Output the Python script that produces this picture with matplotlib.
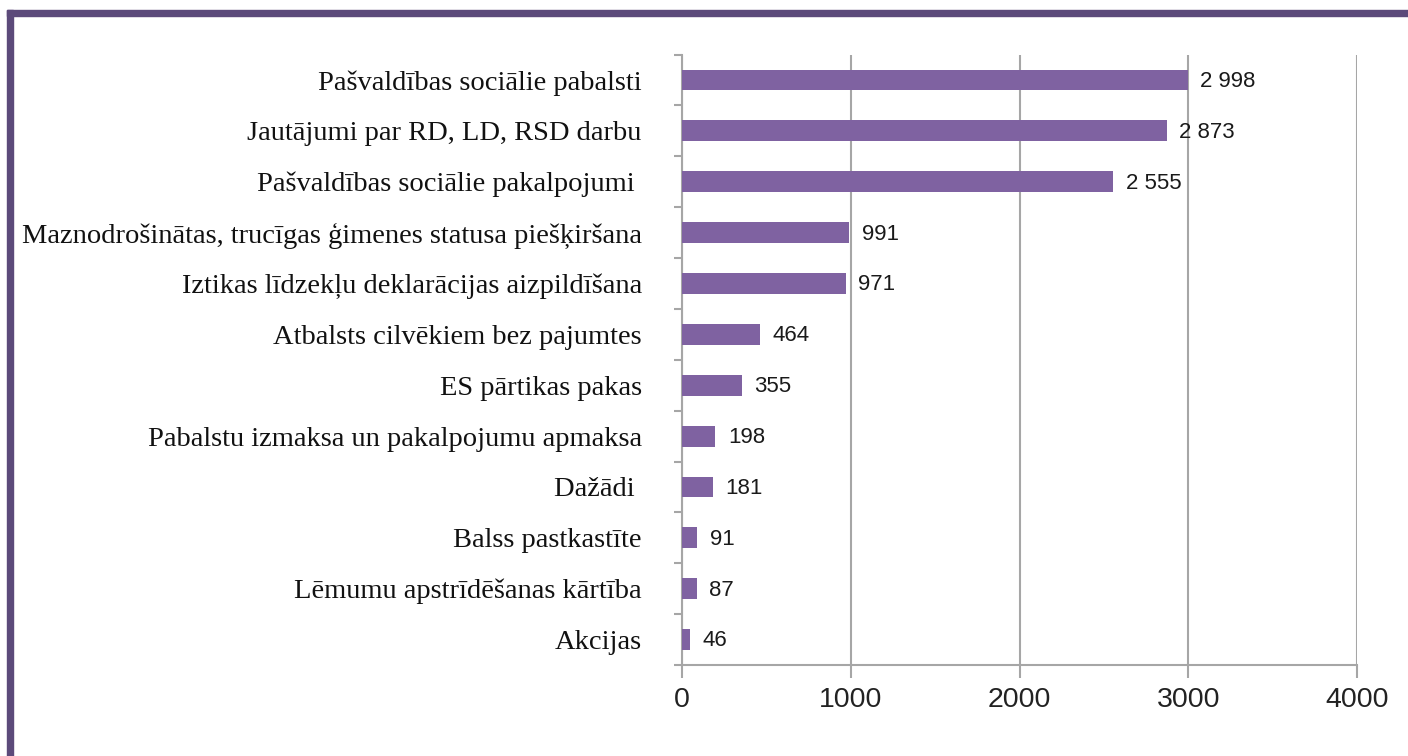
import matplotlib.pyplot as plt
from matplotlib.patches import Rectangle
import numpy as np

# Dati (no augšas uz leju)
kategorijas = [
    'Pašvaldības sociālie pabalsti',
    'Jautājumi par RD, LD, RSD darbu',
    'Pašvaldības sociālie pakalpojumi ',
    'Maznodrošinātas, trucīgas ģimenes statusa piešķiršana',
    'Iztikas līdzekļu deklarācijas aizpildīšana',
    'Atbalsts cilvēkiem bez pajumtes',
    'ES pārtikas pakas',
    'Pabalstu izmaksa un pakalpojumu apmaksa',
    'Dažādi ',
    'Balss pastkastīte',
    'Lēmumu apstrīdēšanas kārtība',
    'Akcijas',
]
vertibas = [2998, 2873, 2555, 991, 971, 464, 355, 198, 181, 91, 87, 46]
x_ticki = [0, 1000, 2000, 3000, 4000]

BAR_COLOR = '#7F62A1'
GRID_COLOR = '#A6A6A6'
BORDER_COLOR = '#5C4A7A'
SANS = ['Liberation Sans', 'DejaVu Sans']
SERIF = ['Liberation Serif', 'DejaVu Serif']

fig = plt.figure(figsize=(14.08, 7.56), dpi=100)
ax = fig.add_axes([0.4844, 0.1204, 0.4794, 0.8074])

y = np.arange(len(vertibas))
ax.barh(y, vertibas, height=0.41, color=BAR_COLOR, zorder=3)
ax.set_ylim(len(vertibas) - 0.5, -0.5)
ax.set_xlim(0, 4000)

# vērtību uzraksti
for yi, v in zip(y, vertibas):
    ax.annotate(f'{v:,}'.replace(',', ' '), (v, yi), xytext=(9, -1),
                textcoords='offset points', ha='left', va='center',
                fontsize=16, family=SANS, color='#1a1a1a')

# asis un režģis
ax.set_xticks(x_ticki)
ax.set_xticklabels([str(t) for t in x_ticki], family=SANS, fontsize=20.5, color='#222222')
ax.set_yticks(y)
ax.set_yticklabels(kategorijas, family=SERIF, fontsize=20.5, color='#111111')
ax.set_yticks(np.arange(len(vertibas) + 1) - 0.5, minor=True)
ax.tick_params(axis='y', which='major', length=0, pad=29)
ax.tick_params(axis='y', which='minor', length=6, color=GRID_COLOR, width=1.5)
ax.tick_params(axis='x', length=9, color=GRID_COLOR, width=1.5, pad=7)

ax.grid(axis='x', color=GRID_COLOR, linewidth=1.5, zorder=0)
for s in ['top', 'right']:
    ax.spines[s].set_visible(False)
for s in ['left', 'bottom']:
    ax.spines[s].set_color(GRID_COLOR)
    ax.spines[s].set_linewidth(1.5)

# rāmis (augšā un pa kreisi)
fig.patches.append(Rectangle((7 / 1408, 0), 6 / 1408, 1 - 10 / 756,
                             transform=fig.transFigure, color=BORDER_COLOR, zorder=10))
fig.patches.append(Rectangle((7 / 1408, 1 - 16 / 756), 1, 6 / 756,
                             transform=fig.transFigure, color=BORDER_COLOR, zorder=10))

fig.savefig('out.png', dpi=100)
